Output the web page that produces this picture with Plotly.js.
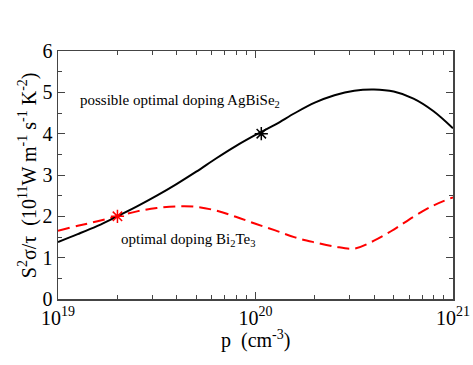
<!DOCTYPE html>
<html>
<head>
<meta charset="utf-8">
<script src="https://cdn.plot.ly/plotly-3.0.1.min.js"></script>
<style>
  html, body { margin:0; padding:0; background:#fff; }
  #chart { width:473px; height:365px; }
</style>
</head>
<body>
<div id="chart"></div>
<script>
// log10 of hole density p (cm^-3)
const logP = [19.0,19.1,19.2,19.3,19.4,19.5,19.6,19.7,19.8,19.9,20.0,20.1,20.2,20.3,20.4,20.5,20.6,20.7,20.8,20.9,21.0];
// S^2 sigma / tau for AgBiSe2 (solid black)
const agbise2 = [1.38,1.57,1.77,2.00,2.24,2.50,2.78,3.08,3.40,3.70,3.97,4.22,4.50,4.75,4.93,5.04,5.07,5.02,4.85,4.55,4.13];
// S^2 sigma / tau for Bi2Te3 (dashed red)
const bi2te3 = [1.65,1.77,1.88,2.00,2.12,2.20,2.24,2.23,2.14,1.99,1.82,1.66,1.49,1.37,1.27,1.22,1.41,1.68,1.99,2.26,2.46];

// optimal doping markers
const starAgX = [1.07e20], starAgY = [4.0];
const starBiX = [2.0e19],  starBiY = [2.0];

const pVals = logP.map(v => Math.pow(10, v));
const minorX = [];
for (const d of [19, 20]) for (let k = 2; k <= 9; k++) minorX.push(k * Math.pow(10, d));

const serif = 'Liberation Serif';

const traces = [
  {type:'scatter', mode:'lines', x:pVals, y:bi2te3, line:{color:'#ff0000', width:2, dash:'12px,6px', shape:'spline'}, hoverinfo:'skip'},
  {type:'scatter', mode:'lines', x:pVals, y:agbise2, line:{color:'#000000', width:2, shape:'spline'}, hoverinfo:'skip'},
  {type:'scatter', mode:'markers', x:starAgX, y:starAgY, marker:{symbol:'asterisk-open', size:11, color:'#000', line:{color:'#000', width:1.5}}},
  {type:'scatter', mode:'markers', x:starBiX, y:starBiY, marker:{symbol:'asterisk-open', size:11, color:'#ff0000', line:{color:'#ff0000', width:1.5}}}
];

const layout = {
  width:473, height:365,
  margin:{l:58, r:20, t:51, b:66},
  paper_bgcolor:'#fff', plot_bgcolor:'#fff',
  showlegend:false,
  font:{family:serif, color:'#000'},
  xaxis:{
    type:'log', range:[19, 21],
    tickmode:'array', tickvals:[1e19, 1e20, 1e21],
    ticktext:['10<sup>19</sup>','10<sup>20</sup>','10<sup>21</sup>'],
    ticks:'inside', ticklen:7, tickcolor:'#444',
    minor:{tickmode:'array', tickvals:minorX, ticks:'inside', ticklen:4, tickcolor:'#444'},
    showline:true, linecolor:'#444', linewidth:1.5, mirror:'ticks',
    showgrid:false, zeroline:false,
    tickfont:{size:20, family:serif}
  },
  yaxis:{
    range:[0, 6], tickmode:'linear', tick0:0, dtick:1,
    ticks:'inside', ticklen:7, tickcolor:'#444',
    minor:{dtick:0.5, ticks:'inside', ticklen:4, tickcolor:'#444'},
    showline:true, linecolor:'#444', linewidth:1.5, mirror:'ticks',
    showgrid:false, zeroline:false,
    tickfont:{size:20, family:serif}
  },
  annotations:[
    // axis titles placed as annotations to match the reference spacing
    {x:0.5, y:-0.165, xref:'paper', yref:'paper', xanchor:'center', yanchor:'middle', showarrow:false,
     text:'p  (cm<sup>-3</sup>)', font:{size:20, family:serif, color:'#000'}},
    {x:-0.078, y:0.5, xref:'paper', yref:'paper', xanchor:'center', yanchor:'middle', showarrow:false, textangle:-90,
     text:'S<sup>2</sup>σ/τ  (10<sup>11</sup>W m<sup>-1</sup> s<sup>-1</sup> K<sup>-2</sup>)', font:{size:20, family:serif, color:'#000'}},
    {x:19.1, y:4.8, xref:'x', yref:'y', xanchor:'left', yanchor:'middle', showarrow:false,
     text:'possible optimal doping AgBiSe<sub>2</sub>', font:{size:15, family:serif, color:'#000'}},
    {x:19.31, y:1.42, xref:'x', yref:'y', xanchor:'left', yanchor:'middle', showarrow:false,
     text:'optimal doping Bi<sub>2</sub>Te<sub>3</sub>', font:{size:15, family:serif, color:'#000'}}
  ]
};

Plotly.newPlot('chart', traces, layout, {displayModeBar:false, staticPlot:true});
</script>
</body>
</html>
